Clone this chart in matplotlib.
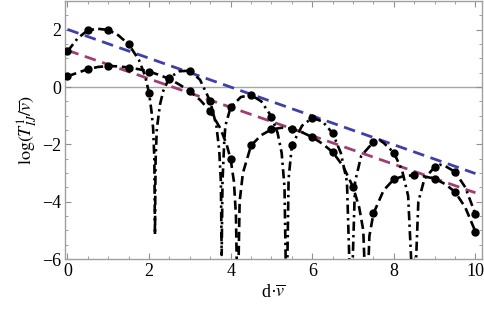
import matplotlib
matplotlib.use("Agg")
import matplotlib.pyplot as plt
import numpy as np

plt.rcParams['font.family'] = ['Liberation Serif', 'DejaVu Serif']
plt.rcParams['mathtext.fontset'] = 'stix'

# Curve A (dash-dot, large oscillation)
a_x = [0, 0.25, 0.5, 0.75, 1.0, 1.25, 1.5, 1.75, 1.9, 2.0, 2.06, 2.1, 2.13, 2.145,
       2.16, 2.19, 2.27, 2.35, 2.5, 2.75, 3.0, 3.25, 3.5, 3.65, 3.72, 3.76, 3.78,
       3.80, 3.84, 3.87, 4.0, 4.25, 4.5, 4.75, 5.0, 5.15, 5.25, 5.32, 5.37, 5.42,
       5.5, 5.75, 6.0, 6.25, 6.5, 6.7, 6.85, 6.95, 7.05, 7.2, 7.5, 7.66, 7.75, 8.0,
       8.2, 8.35, 8.49, 8.6, 8.75, 9.0, 9.13, 9.25, 9.5, 9.75, 10.0]
a_y = [1.24, 1.70, 1.98, 2.03, 1.99, 1.80, 1.49, 0.95, 0.40, -0.21, -0.85, -1.45, -2.5, -5.16,
       -2.6, -1.46, -0.6, -0.13, 0.33, 0.55, 0.57, 0.25, -0.50, -1.35, -2.2, -3.3, -5.86,
       -3.3, -2.0, -1.35, -0.71, -0.35, -0.28, -0.50, -1.03, -1.6, -2.3, -3.5, -8.0, -3.2,
       -2.04, -1.35, -1.08, -1.20, -1.61, -2.3, -3.3, -8.0, -3.3, -2.4, -1.92, -1.86, -1.95, -2.29,
       -2.9, -3.8, -8.0, -4.0, -3.2, -2.79, -2.71, -2.75, -2.96, -3.5, -4.44]

# Curve B (dashed, slower oscillation)
b_x = [0, 0.25, 0.5, 0.75, 1.0, 1.25, 1.5, 1.75, 2.0, 2.25, 2.5, 2.75, 3.0, 3.25, 3.5,
       3.75, 3.9, 4.0, 4.08, 4.13, 4.17, 4.22, 4.3, 4.5, 4.75, 5.0, 5.25, 5.5, 5.75,
       6.0, 6.25, 6.5, 6.75, 7.0, 7.15, 7.25, 7.33, 7.4, 7.5, 7.75, 8.0, 8.25, 8.5,
       8.75, 9.0, 9.25, 9.5, 9.75, 10.0]
b_y = [0.37, 0.50, 0.62, 0.70, 0.73, 0.72, 0.68, 0.62, 0.54, 0.42, 0.28, 0.08, -0.15, -0.45, -0.85,
       -1.45, -2.0, -2.52, -3.3, -4.5, -8.0, -4.0, -3.0, -2.04, -1.68, -1.48, -1.42, -1.46, -1.58,
       -1.75, -1.98, -2.27, -2.75, -3.49, -4.2, -5.0, -8.0, -5.2, -4.41, -3.6, -3.22, -3.10, -3.08,
       -3.12, -3.20, -3.38, -3.66, -4.2, -5.05]

# Sample dots
a_dot_x = [0, 0.5, 1.0, 1.5, 2.0, 2.5, 3.0, 3.5, 4.0, 4.5, 5.0, 5.5, 6.0, 6.5, 7.5, 8.0, 9.0, 9.5, 10.0]
a_dot_y = [1.24, 1.98, 1.99, 1.49, -0.21, 0.33, 0.57, -0.50, -0.71, -0.28, -1.03, -2.04, -1.08, -1.61,
           -1.92, -2.29, -2.79, -2.96, -4.44]
b_dot_x = [0, 0.5, 1.0, 1.5, 2.0, 2.5, 3.0, 3.5, 4.0, 4.5, 5.0, 5.5, 6.0, 6.5, 7.0, 7.5, 8.0, 8.5, 9.0, 9.5, 10.0]
b_dot_y = [0.37, 0.62, 0.73, 0.68, 0.54, 0.28, -0.15, -0.85, -2.52, -2.04, -1.48, -1.46, -1.75, -2.27,
           -3.49, -4.41, -3.22, -3.08, -3.20, -3.66, -5.05]

# Envelope lines
blue_x = [0, 10]
blue_y = [2.01, -3.02]
purple_x = [0, 10]
purple_y = [1.28, -3.69]

fig = plt.figure(figsize=(4.85, 3.10), dpi=100)
ax = fig.add_axes([65/485, 1 - 259/310, (482-65)/485, 258/310])

ax.axhline(0, color='#a6a6a6', lw=1.0, zorder=1)

ax.plot(blue_x, blue_y, color='#3f3fa8', lw=2.0, dashes=(4.2, 2.4), zorder=2)
ax.plot(purple_x, purple_y, color='#9e3f73', lw=2.0, dashes=(4.2, 2.4), zorder=2)

ax.plot(a_x, a_y, color='black', lw=1.9, dashes=(3.5, 1.6, 0.9, 1.6), zorder=3)
ax.plot(b_x, b_y, color='black', lw=1.9, dashes=(3.5, 1.8), zorder=3)
ax.plot(a_dot_x, a_dot_y, 'o', color='black', ms=5.0, zorder=4)
ax.plot(b_dot_x, b_dot_y, 'o', color='black', ms=5.0, zorder=4)

ax.set_xlim(-0.06, 10.16)
ax.set_ylim(-6, 3)
ax.set_xticks([0, 2, 4, 6, 8, 10])
ax.set_yticks([-6, -4, -2, 0, 2])
ax.set_yticklabels(['\u22126', '\u22124', '\u22122', '0', '2'])
ax.set_xticks(np.arange(0, 10.01, 0.5), minor=True)
ax.set_yticks(np.arange(-6, 3.01, 0.5), minor=True)
ax.tick_params(which='both', direction='in', top=True, right=True, color='#909090',
               labelsize=13, pad=3)
ax.tick_params(which='major', length=4.5, width=0.8)
ax.tick_params(which='minor', length=2.5, width=0.6)
for s in ax.spines.values():
    s.set_color('#a0a0a0')
    s.set_linewidth(1.0)

ax.set_xlabel('d\u00b7' + r'$\overline{v}$', fontsize=13, labelpad=3)
ax.set_ylabel(r'$\log(T^{1}_{IJ}/\overline{v})$', fontsize=13, labelpad=2)

fig.savefig('out.png', dpi=100)
